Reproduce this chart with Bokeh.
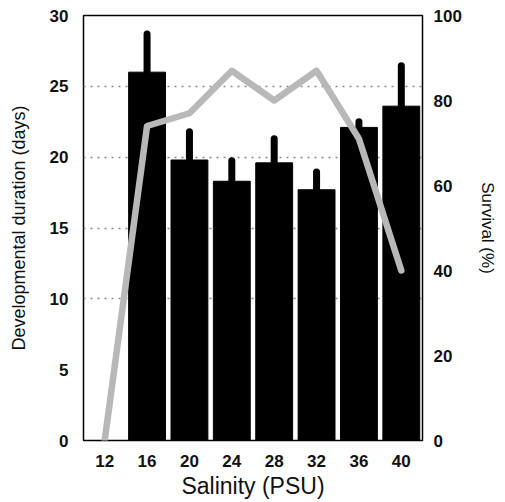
from bokeh.plotting import figure
from bokeh.models import Range1d, FactorRange, LinearAxis, FixedTicker, ColumnDataSource, Title
from bokeh.embed import file_html
from bokeh.resources import INLINE

salinity = ["12", "16", "20", "24", "28", "32", "36", "40"]
duration = [0, 26.0, 19.8, 18.3, 19.6, 17.7, 22.1, 23.6]
duration_sd = [0, 2.7, 2.0, 1.45, 1.7, 1.25, 0.4, 2.85]
survival = [0, 74, 77, 87, 80, 87, 71, 40]

err_top = [d + s for d, s in zip(duration, duration_sd)]
bar_src = ColumnDataSource(dict(x=salinity[1:], top=duration[1:], err=err_top[1:]))
surv_src = ColumnDataSource(dict(x=salinity, y=survival))

FONT = "Liberation Sans"

p = figure(frame_width=339, frame_height=425, x_range=FactorRange(*salinity), y_range=Range1d(0, 30),
           output_backend="svg", toolbar_location=None,
           min_border_left=83, min_border_right=60, min_border_top=15, min_border_bottom=0)
p.extra_y_ranges = {"surv": Range1d(0, 100)}

p.outline_line_color = "black"
p.outline_line_width = 1.5
p.xgrid.visible = False
p.ygrid.ticker = FixedTicker(ticks=[10, 15, 20, 25])
p.ygrid.grid_line_color = "#8a8a8a"
p.ygrid.grid_line_dash = "2 5"
p.ygrid.grid_line_width = 1.5

p.vbar(x="x", top="top", width=0.87, source=bar_src, fill_color="black", line_color="black")
p.segment(x0="x", y0="top", x1="x", y1="err", source=bar_src, line_color="black",
          line_width=7, line_cap="round")
p.line(x="x", y="y", source=surv_src, y_range_name="surv", line_color="#b8b8b8",
       line_width=6.5, line_join="round", line_cap="round")

ax_r = LinearAxis(y_range_name="surv", ticker=FixedTicker(ticks=[0, 20, 40, 60, 80, 100]),
                  axis_label="Survival (%)")
p.add_layout(ax_r, "right")

p.yaxis[0].ticker = FixedTicker(ticks=[0, 5, 10, 15, 20, 25, 30])
p.yaxis[0].axis_label = "Developmental duration (days)"

for ax in p.xaxis + p.yaxis:
    ax.axis_line_color = None
    ax.major_tick_line_color = None
    ax.minor_tick_line_color = None
    ax.major_label_text_font = FONT
    ax.axis_label_text_font = FONT
    ax.major_label_text_font_size = "17px"
    ax.major_label_text_font_style = "bold"
    ax.axis_label_text_font_style = "normal"
    ax.major_label_text_color = "#111111"
    ax.axis_label_text_color = "#111111"

p.xaxis.major_label_standoff = 8
p.yaxis[0].major_label_standoff = 9
p.yaxis[0].axis_label_standoff = 18
p.yaxis[0].axis_label_text_font_size = "18px"
ax_r.major_label_standoff = 5
ax_r.axis_label_standoff = 13
ax_r.axis_label_text_font_size = "17px"

xtitle = Title(text="Salinity (PSU)", align="center", text_font=FONT, text_font_size="23px",
               text_font_style="normal", text_color="#111111", standoff=2)
p.add_layout(xtitle, "below")

open("out.html", "w").write(file_html(p, INLINE))
